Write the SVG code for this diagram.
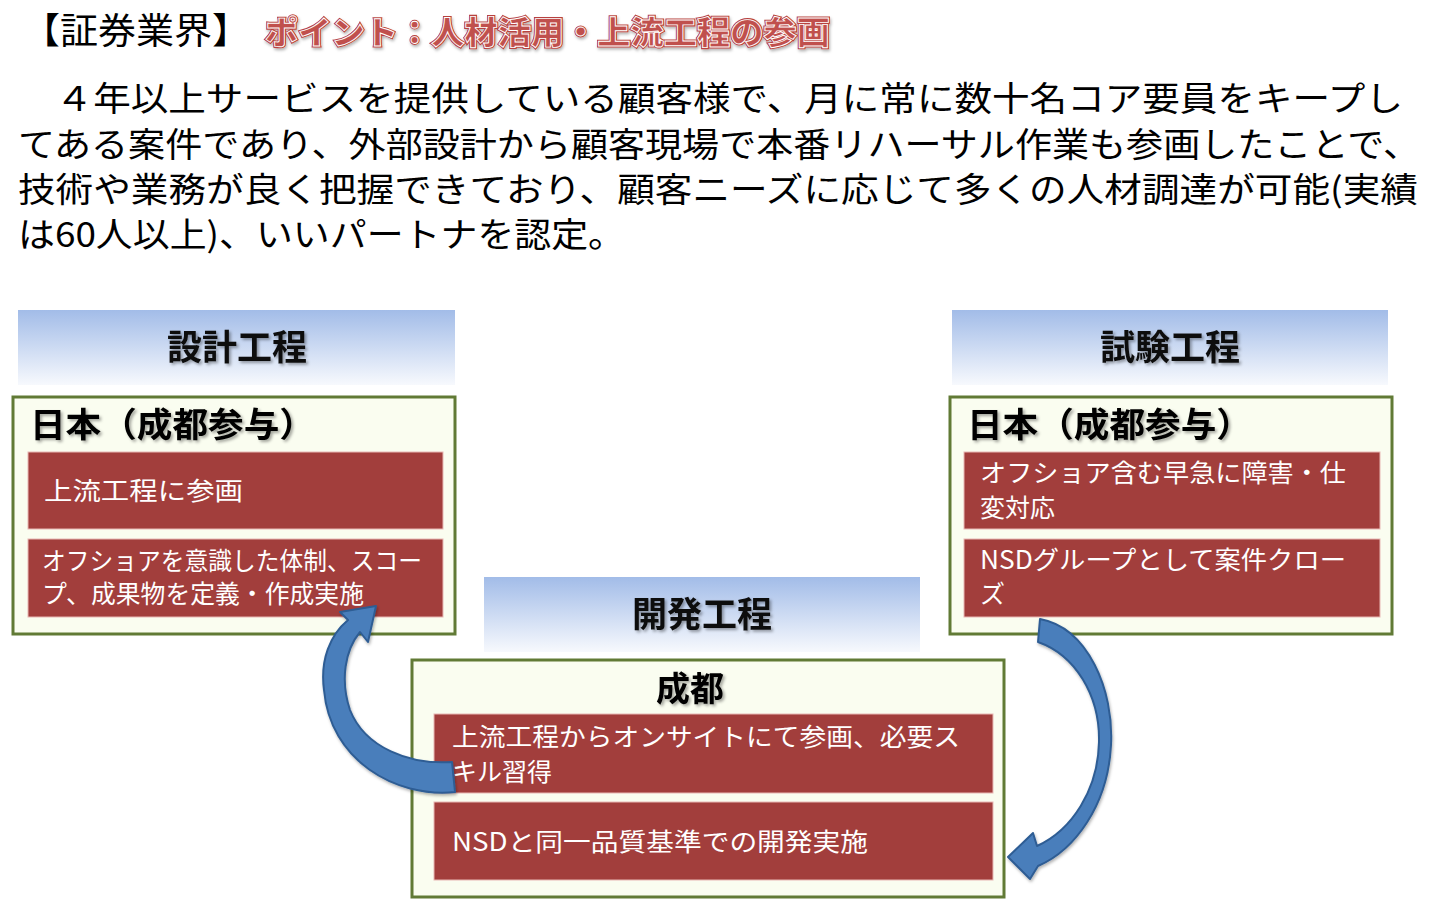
<svg xmlns="http://www.w3.org/2000/svg" width="1440" height="900" viewBox="0 0 1440 900">
<defs>
<linearGradient id="hdr" x1="0" y1="0" x2="0" y2="1">
<stop offset="0" stop-color="#a2bce8"/>
<stop offset="1" stop-color="#f7f9fd"/>
</linearGradient>
<filter id="sh" x="-10%" y="-30%" width="120%" height="160%">
<feDropShadow dx="2" dy="2" stdDeviation="1.5" flood-color="#000" flood-opacity="0.35"/>
</filter>
<filter id="ash" x="-20%" y="-20%" width="140%" height="140%">
<feDropShadow dx="1" dy="2" stdDeviation="1.5" flood-color="#000" flood-opacity="0.3"/>
</filter>
<style>
.jp{font-family:"Noto Sans CJK JP","Noto Sans",sans-serif;}
.body{font-size:34px;fill:#000;}
.hdr{fill:url(#hdr);}
.hdrt{font-size:35px;font-weight:bold;fill:#111;text-anchor:middle;}
.grp{fill:#fafdf0;stroke:#617a35;stroke-width:3;}
.grpt{font-size:34px;font-weight:bold;fill:#000;}
.red{fill:#a23e3c;stroke:#e8b8b4;stroke-width:1;}
.wt{fill:#fff;font-size:25px;}
.arr{fill:#4a7ebb;stroke:#2e5d94;stroke-width:2;stroke-linejoin:round;}
.pt{font-size:32px;font-weight:900;fill:#c0504d;}
</style>
</defs>
<rect width="1440" height="900" fill="#fff"/>

<g id="title">
<text class="jp" x="22" y="44" font-size="36" textLength="228" lengthAdjust="spacingAndGlyphs">【証券業界】</text>
<text class="jp pt" x="265" y="44" stroke="#b8433f" stroke-width="3" textLength="565" lengthAdjust="spacingAndGlyphs" filter="url(#ash)">ポイント：人材活用・上流工程の参画</text>
<text class="jp pt" x="265" y="44" stroke="#fff" stroke-width="0.9" textLength="565" lengthAdjust="spacingAndGlyphs">ポイント：人材活用・上流工程の参画</text>
</g>

<g id="body-text" class="jp body">
<text x="18" y="111" textLength="1385" lengthAdjust="spacingAndGlyphs">　４年以上サービスを提供している顧客様で、月に常に数十名コア要員をキープし</text>
<text x="18" y="157" textLength="1402" lengthAdjust="spacingAndGlyphs">てある案件であり、外部設計から顧客現場で本番リハーサル作業も参画したことで、</text>
<text x="18" y="202" textLength="1400" lengthAdjust="spacingAndGlyphs">技術や業務が良く把握できており、顧客ニーズに応じて多くの人材調達が可能(実績</text>
<text x="18" y="247" textLength="607" lengthAdjust="spacingAndGlyphs">は60人以上)、いいパートナを認定。</text>
</g>

<g id="design">
<rect class="hdr" x="18" y="310" width="437" height="75"/>
<text class="jp hdrt" x="237" y="360" filter="url(#sh)">設計工程</text>
<rect class="grp" x="13" y="397" width="442" height="237"/>
<text class="jp grpt" x="30" y="437" textLength="285" lengthAdjust="spacingAndGlyphs" filter="url(#sh)">日本（成都参与）</text>
<rect class="red" x="28" y="452" width="415" height="77"/>
<text class="jp wt" x="44" y="500" font-size="26" textLength="199" lengthAdjust="spacingAndGlyphs">上流工程に参画</text>
<rect class="red" x="28" y="539" width="415" height="78"/>
<text class="jp wt" x="42" y="570" font-size="24" textLength="380" lengthAdjust="spacingAndGlyphs">オフショアを意識した体制、スコー</text>
<text class="jp wt" x="42" y="603" font-size="24" textLength="322" lengthAdjust="spacingAndGlyphs">プ、成果物を定義・作成実施</text>
</g>

<g id="test">
<rect class="hdr" x="952" y="310" width="436" height="75"/>
<text class="jp hdrt" x="1170" y="360" filter="url(#sh)">試験工程</text>
<rect class="grp" x="950" y="397" width="442" height="237"/>
<text class="jp grpt" x="967" y="437" textLength="285" lengthAdjust="spacingAndGlyphs" filter="url(#sh)">日本（成都参与）</text>
<rect class="red" x="964" y="452" width="416" height="77"/>
<text class="jp wt" x="980" y="482" font-size="26" textLength="366" lengthAdjust="spacingAndGlyphs">オフショア含む早急に障害・仕</text>
<text class="jp wt" x="980" y="517" font-size="26">変対応</text>
<rect class="red" x="964" y="539" width="416" height="78"/>
<text class="jp wt" x="980" y="569" font-size="26" textLength="366" lengthAdjust="spacingAndGlyphs">NSDグループとして案件クロー</text>
<text class="jp wt" x="980" y="603" font-size="26">ズ</text>
</g>

<g id="dev">
<rect class="hdr" x="484" y="577" width="436" height="75"/>
<text class="jp hdrt" x="702" y="627" filter="url(#sh)">開発工程</text>
<rect class="grp" x="412" y="660" width="592" height="237"/>
<text class="jp grpt" x="690" y="701" text-anchor="middle" filter="url(#sh)">成都</text>
<rect class="red" x="434" y="714" width="559" height="79"/>
<text class="jp wt" x="452" y="746" font-size="26" textLength="508" lengthAdjust="spacingAndGlyphs">上流工程からオンサイトにて参画、必要ス</text>
<text class="jp wt" x="452" y="781" font-size="26">キル習得</text>
<rect class="red" x="434" y="802" width="559" height="78"/>
<text class="jp wt" x="452" y="851" font-size="26" textLength="416" lengthAdjust="spacingAndGlyphs">NSDと同一品質基準での開発実施</text>
</g>

<g id="connectors">
<path class="arr" filter="url(#ash)" d="M 455 792 C 395 798 330 760 324 690 C 320 660 330 635 348 620 L 340 612 L 376 606 L 368 642 L 360 632 C 345 650 340 680 350 710 C 365 748 410 765 452 762 Z"/>
<path class="arr" filter="url(#ash)" d="M 1040 619 C 1088 628 1114 690 1111 745 C 1108 805 1075 850 1038 866 L 1030 879 L 1008 857 L 1033 833 L 1037 846 C 1072 830 1098 790 1099 742 C 1100 695 1075 655 1038 642 Z"/>
</g>
</svg>
